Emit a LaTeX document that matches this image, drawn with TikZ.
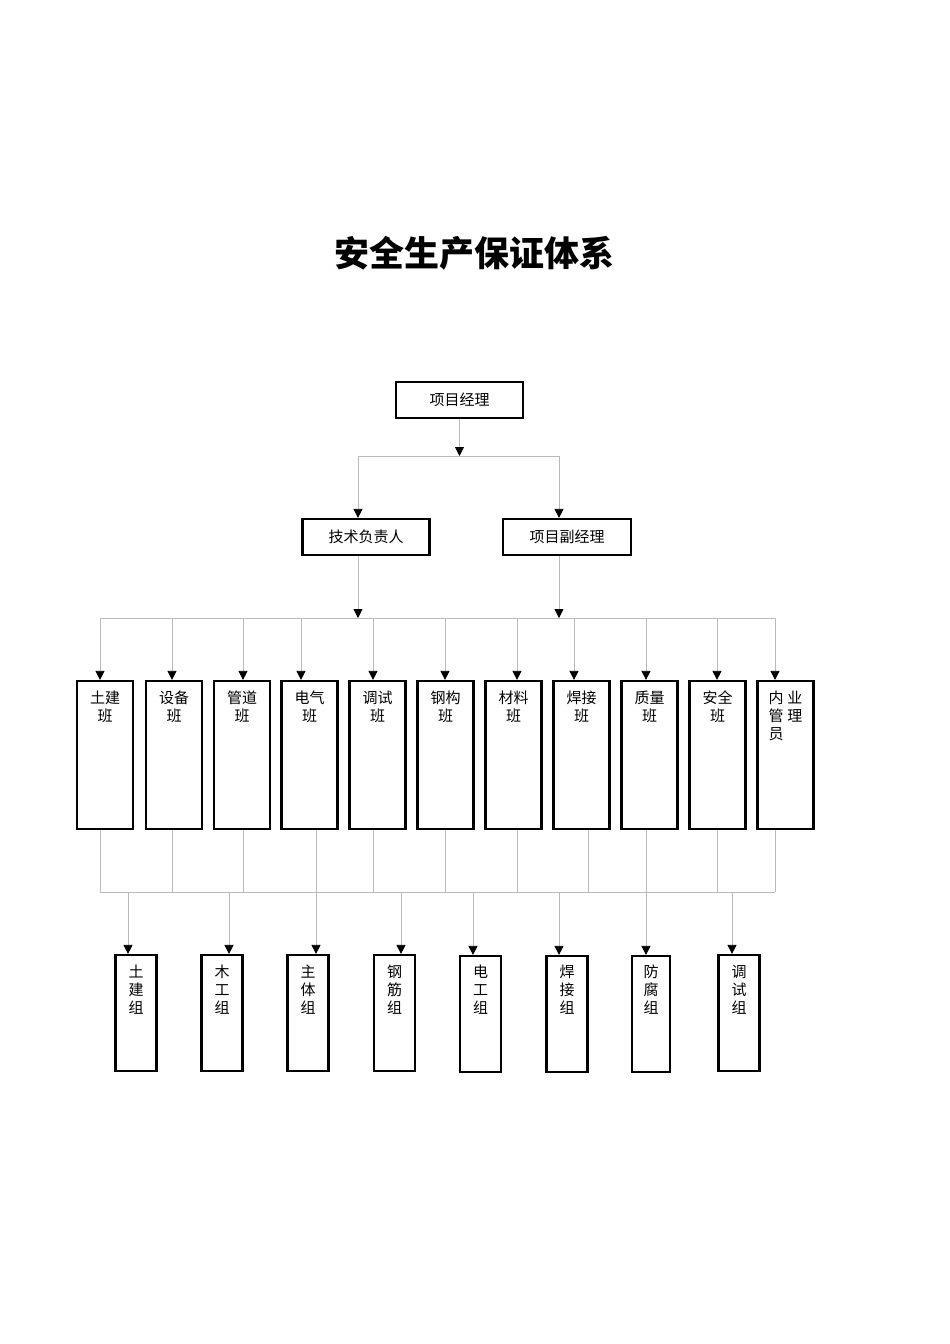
\documentclass[tikz,border=0pt]{standalone}
\usepackage{fontspec}
\setmainfont{Noto Sans CJK SC}
\usetikzlibrary{arrows.meta}

\begin{document}
\begin{tikzpicture}[x=1pt,y=-1pt,every node/.style={font=\fontsize{15}{18}\selectfont},
  box/.style={draw,line width=2.2pt,inner sep=0pt},
  ban/.style={box,minimum width=56,minimum height=148},
  zu/.style={box,minimum width=41,minimum height=116},
  txt/.style={anchor=north,align=center,inner sep=0pt},
  conn/.style={draw=black!27,line width=.8pt},
  arr/.style={conn,-{Triangle[width=9pt,length=9pt,black]}}]
\useasboundingbox (0,0) rectangle (950,1344);
\node[font=\bfseries\fontsize{35}{40}\selectfont] (title) at (474.5,253) {安全生产保证体系};
% top levels
\node[box,minimum width=127,minimum height=36] (pm) at (459.5,400) {项目经理};
\node[box,minimum width=127,minimum height=36] (tech) at (366,537) {技术负责人};
\node[box,minimum width=128,minimum height=36] (dpm) at (567,537) {项目副经理};
\coordinate (h1l) at (358,456);
\coordinate (h1r) at (559,456);
\draw[conn] (h1l) -- (h1r);
\draw[arr] (pm) -- (pm |- h1l);
\draw[arr] (h1l) -- (h1l |- tech.north);
\draw[arr] (h1r) -- (h1r |- dpm.north);
\coordinate (h2l) at (100,618);
\coordinate (h2r) at (775,618);
\draw[conn] (h2l) -- (h2r);
\draw[arr] (h1l |- tech.south) -- (h1l |- h2l);
\draw[arr] (h1r |- dpm.south) -- (h1r |- h2r);
% teams
\node[ban] (b1) at (105,755) {};\node[txt] (t1) at (105,691) {土建\\班};
\node[ban] (b2) at (174,755) {};\node[txt] (t2) at (174,691) {设备\\班};
\node[ban] (b3) at (242,755) {};\node[txt] (t3) at (242,691) {管道\\班};
\node[ban] (b4) at (309.5,755) {};\node[txt] (t4) at (309.5,691) {电气\\班};
\node[ban] (b5) at (377.5,755) {};\node[txt] (t5) at (377.5,691) {调试\\班};
\node[ban] (b6) at (445.5,755) {};\node[txt] (t6) at (445.5,691) {钢构\\班};
\node[ban] (b7) at (513.5,755) {};\node[txt] (t7) at (513.5,691) {材料\\班};
\node[ban] (b8) at (581.5,755) {};\node[txt] (t8) at (581.5,691) {焊接\\班};
\node[ban] (b9) at (649.5,755) {};\node[txt] (t9) at (649.5,691) {质量\\班};
\node[ban] (b10) at (717.5,755) {};\node[txt] (t10) at (717.5,691) {安全\\班};
\node[ban] (b11) at (785.5,755) {};\node[txt,align=left] (t11) at (785.5,691) {内\hspace{4pt}业\\管\hspace{4pt}理\\员};
\coordinate (a1) at (100,618);\draw[arr] (a1) -- (a1 |- b1.north);
\coordinate (a2) at (172,618);\draw[arr] (a2) -- (a2 |- b2.north);
\coordinate (a3) at (243,618);\draw[arr] (a3) -- (a3 |- b3.north);
\coordinate (a4) at (301,618);\draw[arr] (a4) -- (a4 |- b4.north);
\coordinate (a5) at (373,618);\draw[arr] (a5) -- (a5 |- b5.north);
\coordinate (a6) at (445,618);\draw[arr] (a6) -- (a6 |- b6.north);
\coordinate (a7) at (517,618);\draw[arr] (a7) -- (a7 |- b7.north);
\coordinate (a8) at (574,618);\draw[arr] (a8) -- (a8 |- b8.north);
\coordinate (a9) at (646,618);\draw[arr] (a9) -- (a9 |- b9.north);
\coordinate (a10) at (717,618);\draw[arr] (a10) -- (a10 |- b10.north);
\coordinate (a11) at (775,618);\draw[arr] (a11) -- (a11 |- b11.north);
% lower bus
\coordinate (h3l) at (100,892);
\coordinate (h3r) at (775,892);
\draw[conn] (h3l) -- (h3r);
\coordinate (u1) at (100,892);\draw[conn] (u1 |- b1.south) -- (u1);
\coordinate (u2) at (172,892);\draw[conn] (u2 |- b2.south) -- (u2);
\coordinate (u3) at (243,892);\draw[conn] (u3 |- b3.south) -- (u3);
\coordinate (u4) at (316,892);\draw[conn] (u4 |- b4.south) -- (u4);
\coordinate (u5) at (373,892);\draw[conn] (u5 |- b5.south) -- (u5);
\coordinate (u6) at (445,892);\draw[conn] (u6 |- b6.south) -- (u6);
\coordinate (u7) at (517,892);\draw[conn] (u7 |- b7.south) -- (u7);
\coordinate (u8) at (588,892);\draw[conn] (u8 |- b8.south) -- (u8);
\coordinate (u9) at (646,892);\draw[conn] (u9 |- b9.south) -- (u9);
\coordinate (u10) at (717,892);\draw[conn] (u10 |- b10.south) -- (u10);
\coordinate (u11) at (775,892);\draw[conn] (u11 |- b11.south) -- (u11);
% groups
\node[zu] (g1) at (136,1013) {};\node[txt] (s1) at (136,965) {土\\建\\组};
\node[zu] (g2) at (222,1013) {};\node[txt] (s2) at (222,965) {木\\工\\组};
\node[zu] (g3) at (308,1013) {};\node[txt] (s3) at (308,965) {主\\体\\组};
\node[zu] (g4) at (394.5,1013) {};\node[txt] (s4) at (394.5,965) {钢\\筋\\组};
\node[zu] (g5) at (480.5,1014) {};\node[txt] (s5) at (480.5,965) {电\\工\\组};
\node[zu] (g6) at (567,1014) {};\node[txt] (s6) at (567,965) {焊\\接\\组};
\node[zu,minimum width=38] (g7) at (651,1014) {};\node[txt] (s7) at (651,965) {防\\腐\\组};
\node[zu] (g8) at (739,1013) {};\node[txt] (s8) at (739,965) {调\\试\\组};
\coordinate (v1) at (128,892);\draw[arr] (v1) -- (v1 |- g1.north);
\coordinate (v2) at (229,892);\draw[arr] (v2) -- (v2 |- g2.north);
\coordinate (v3) at (316,892);\draw[arr] (v3) -- (v3 |- g3.north);
\coordinate (v4) at (401,892);\draw[arr] (v4) -- (v4 |- g4.north);
\coordinate (v5) at (473,892);\draw[arr] (v5) -- (v5 |- g5.north);
\coordinate (v6) at (559,892);\draw[arr] (v6) -- (v6 |- g6.north);
\coordinate (v7) at (646,892);\draw[arr] (v7) -- (v7 |- g7.north);
\coordinate (v8) at (732,892);\draw[arr] (v8) -- (v8 |- g8.north);
\end{tikzpicture}
\end{document}
